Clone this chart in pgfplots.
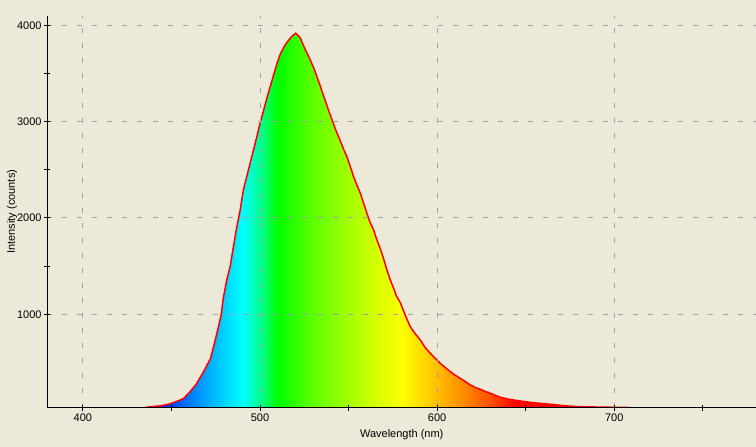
\documentclass[border=0pt]{standalone}
\usepackage{fontspec}
\setmainfont{Liberation Sans}
\usepackage{pgfplots}
\usepackage{pgfplotstable}
\pgfplotsset{compat=1.18}
\definecolor{bg}{RGB}{236,233,216}
\definecolor{gridgray}{RGB}{160,160,160}
\definecolor{sA}{rgb}{0,0,1}
\definecolor{sB}{rgb}{0,0.38,1}
\definecolor{sC}{rgb}{0,0.574,1}
\definecolor{sD}{rgb}{0,0.80,1}
\definecolor{sE}{rgb}{0,1,1}
\definecolor{sF}{rgb}{0,1,0.574}
\definecolor{sG}{rgb}{0,1,0}
\definecolor{sH}{rgb}{0.33,1,0}
\definecolor{sI}{rgb}{0.574,1,0}
\definecolor{sJ}{rgb}{0.795,1,0}
\definecolor{sK}{rgb}{1,1,0}
\definecolor{sL}{rgb}{1,0.798,0}
\definecolor{sM}{rgb}{1,0.574,0}
\definecolor{sN}{rgb}{1,0.326,0}
\definecolor{sO}{rgb}{1,0,0}
\pgfdeclarehorizontalshading{spectrum}{100bp}{
color(0bp)=(sA); color(32.5bp)=(sA); color(34.375bp)=(sB); color(35.625bp)=(sC);
color(37.25bp)=(sD); color(38.75bp)=(sE); color(40bp)=(sF); color(41.25bp)=(sG);
color(43.4375bp)=(sH); color(45.625bp)=(sI); color(47.8125bp)=(sJ); color(50bp)=(sK);
color(52bp)=(sL); color(54.0625bp)=(sM); color(56.125bp)=(sN); color(58.125bp)=(sO);
color(100bp)=(sO)}

\pgfplotstableread{
wl cnt
380 0
420 5
430 15
438 40
444 50
449 69
455 110
457 128
460.5 196
464 275
468 400
472 540
474 681
476 830
478 990
479.3 1170
481.2 1356
483.1 1494
485 1702
486.9 1910
488.8 2083
490.6 2291
492.5 2429
494.4 2568
496.3 2706
498.2 2844
500.1 2990
501.9 3110
503.8 3240
505.7 3360
507.6 3480
509.5 3600
511.4 3700
514.2 3797
517 3866
518.9 3900
520.2 3918
521.7 3890
522.7 3870
524.5 3790
526 3730
528.3 3641
530 3570
532.1 3467
534 3370
535.8 3270
537.7 3170
539.6 3070
541.5 2975
543 2900
545.3 2800
547 2720
549 2637
551 2530
552.8 2429
554.7 2340
556.6 2257
558.5 2150
560.3 2049
562 1960
564.1 1875
566 1770
567.9 1680
570 1560
571.6 1460
573.5 1356
575.4 1270
577 1190
579.2 1120
582 990
584.8 871
587.5 800
590.5 733
593 660
596.1 595
599 540
601.8 491
605 440
607.4 404
610 370
613 335
616 300
618.7 266
621.5 240
624.4 221
627 200
630 180
633 158
635.6 138
640 120
643.2 110
648 97
652.6 86
657 77
662 69
667 60
671.4 51
676 45
680.8 40
690 37
700 34
708 32
715 20
780 0
}\spec

\begin{document}
\begin{tikzpicture}
\fill[bg] (-47.5bp,-39.3bp) rectangle (708.5bp,407.7bp);
\begin{axis}[
  at={(0,0)}, anchor=south west,
  scale only axis, width=708.5bp, height=392bp,
  xmin=380, xmax=780, ymin=30, ymax=4100,
  axis x line*=bottom, axis y line*=left,
  axis line style={black, line width=1bp, -},
  axis on top,
  xtick={400,500,600,700}, minor xtick={450,550,650,750},
  ytick={1000,2000,3000,4000}, minor ytick={1500,2500,3500},
  tick align=center, major tick length=6bp, minor tick length=6bp,
  tick style={black, line width=1bp},
  xmajorgrids, ymajorgrids,
  major grid style={gridgray, line width=1bp, dash pattern=on 5bp off 10bp},
  /pgf/number format/1000 sep={},
  /pgf/number format/assume math mode=true,
  ticklabel style={font=\fontsize{11bp}{13bp}\selectfont},
  xticklabel style={anchor=base, yshift=-11bp},
  yticklabel style={anchor=east, inner sep=0pt, xshift=-2.8bp},
  label style={font=\fontsize{11bp}{13bp}\selectfont},
  xlabel={Wavelength (nm)},
  ylabel={Intensity (counts)},
  x label style={at={(axis description cs:0.5,-0.0753)}, anchor=base},
  y label style={at={(axis description cs:-0.0459,0.5)}, anchor=base},
]
\addplot[draw=none, shading=spectrum] table[x=wl, y=cnt] {\spec} \closedcycle;
\addplot[red, line width=1.5bp, mark=none] table[x=wl, y=cnt] {\spec};
\end{axis}
\pgfresetboundingbox
\useasboundingbox (-47.5bp,-39.3bp) rectangle (708.5bp,407.7bp);
\end{tikzpicture}
\end{document}
